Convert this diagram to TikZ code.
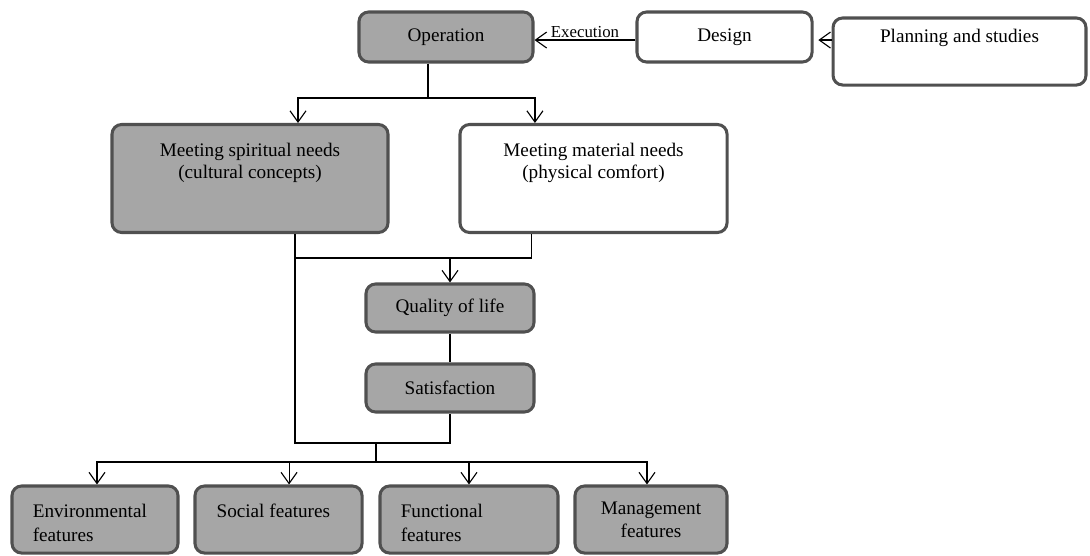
\documentclass[tikz,border=0pt]{standalone}
\usepackage{fontspec}
\setmainfont{Liberation Serif}
\usetikzlibrary{arrows.meta}

\definecolor{boxfill}{HTML}{A6A6A6}
\definecolor{boxline}{HTML}{505050}
% box text: width, height, first baseline, alignment, text
\newcommand{\boxtext}[5]{\parbox[c][#2][t]{#1}{#4\rule{0pt}{#3}#5}}

\begin{document}
\begin{tikzpicture}[x=0.625pt,y=-0.625pt,
  stage/.style={draw=boxline,line width=1.9pt,rounded corners=6pt,fill=boxfill,inner sep=0pt,font=\fontsize{12}{13.8}\selectfont},
  plainstage/.style={stage,fill=white},
  link/.style={line width=0.7pt},
  arr/.style={link,-{Straight Barb[length=7pt,width=10pt]}}]

\useasboundingbox (0,0) rectangle (1090,555);

% top row
\node[stage,minimum width=108.75pt,minimum height=31.25pt] (op) at (446,37) {Operation};
\node[plainstage,minimum width=109.4pt,minimum height=31.25pt] (design) at (724.5,37) {Design};
\node[plainstage] (plan) at (959.5,51.5) {\boxtext{158.1pt}{41.9pt}{15.6pt}{\centering}{Planning and studies}};

% needs
\node[stage] (spirit) at (250,178.5) {\boxtext{172.5pt}{67.5pt}{20pt}{\centering}{Meeting spiritual needs\\(cultural concepts)}};
\node[plainstage] (material) at (593.5,178.5) {\boxtext{166.9pt}{67.5pt}{20pt}{\centering}{Meeting material needs\\(physical comfort)}};

% middle
\node[stage,minimum width=105pt,minimum height=30pt] (quality) at (450,308) {Quality of life};
\node[stage,minimum width=105pt,minimum height=30pt] (satis) at (450,388) {Satisfaction};

% features
\node[stage] (env) at (95,519.5) {\boxtext{103.75pt}{41.9pt}{20pt}{\raggedright\leftskip=13pt}{Environmental\\[1.2pt]features}};
\node[stage] (social) at (278.5,519.5) {\boxtext{104.4pt}{41.9pt}{20pt}{\raggedright\leftskip=13.5pt}{Social features}};
\node[stage] (func) at (469,519.5) {\boxtext{111.25pt}{41.9pt}{20pt}{\raggedright\leftskip=13pt}{Functional\\[1.2pt]features}};
\node[stage] (mgmt) at (651,519.5) {\boxtext{95pt}{41.9pt}{18.1pt}{\centering}{Management\\features}};

% connectors
\coordinate (opsplit) at (428,98);
\coordinate (joinA) at (295,258);
\coordinate (joinB) at (376,443);
\coordinate (fanout) at (376,462);

\draw[arr] ([yshift=-1.9pt]design.west) -- node[above,inner sep=1pt,font=\fontsize{10.5}{12}\selectfont] (exec) {Execution} ([yshift=-1.9pt]op.east);
\draw[arr,shorten >=3pt] ([yshift=-1.9pt]design.east -| plan.west) -- ([yshift=-1.9pt]design.east);

\draw[link] ([xshift=-11.25pt]op.south) -- (opsplit);
\draw[arr] (opsplit) -| ([xshift=30pt]spirit.north);
\draw[arr] (opsplit) -| ([xshift=-36.6pt]material.north);

\draw[link] ([xshift=28.1pt]spirit.south) |- (joinB) -| (satis.south);
\draw[link] ([xshift=-39pt]material.south) |- (joinA);
\draw[arr] (joinA -| quality.north) -- (quality.north);
\draw[link] (quality) -- (satis);

\draw[link] (joinB) -- (fanout);
\draw[arr] (fanout) -| ([xshift=1.25pt]env.north);
\draw[arr] (fanout) -| ([xshift=6.6pt]social.north);
\draw[arr] (fanout) -| (func.north);
\draw[arr] (fanout) -| ([xshift=-2.5pt]mgmt.north);

\end{tikzpicture}
\end{document}
